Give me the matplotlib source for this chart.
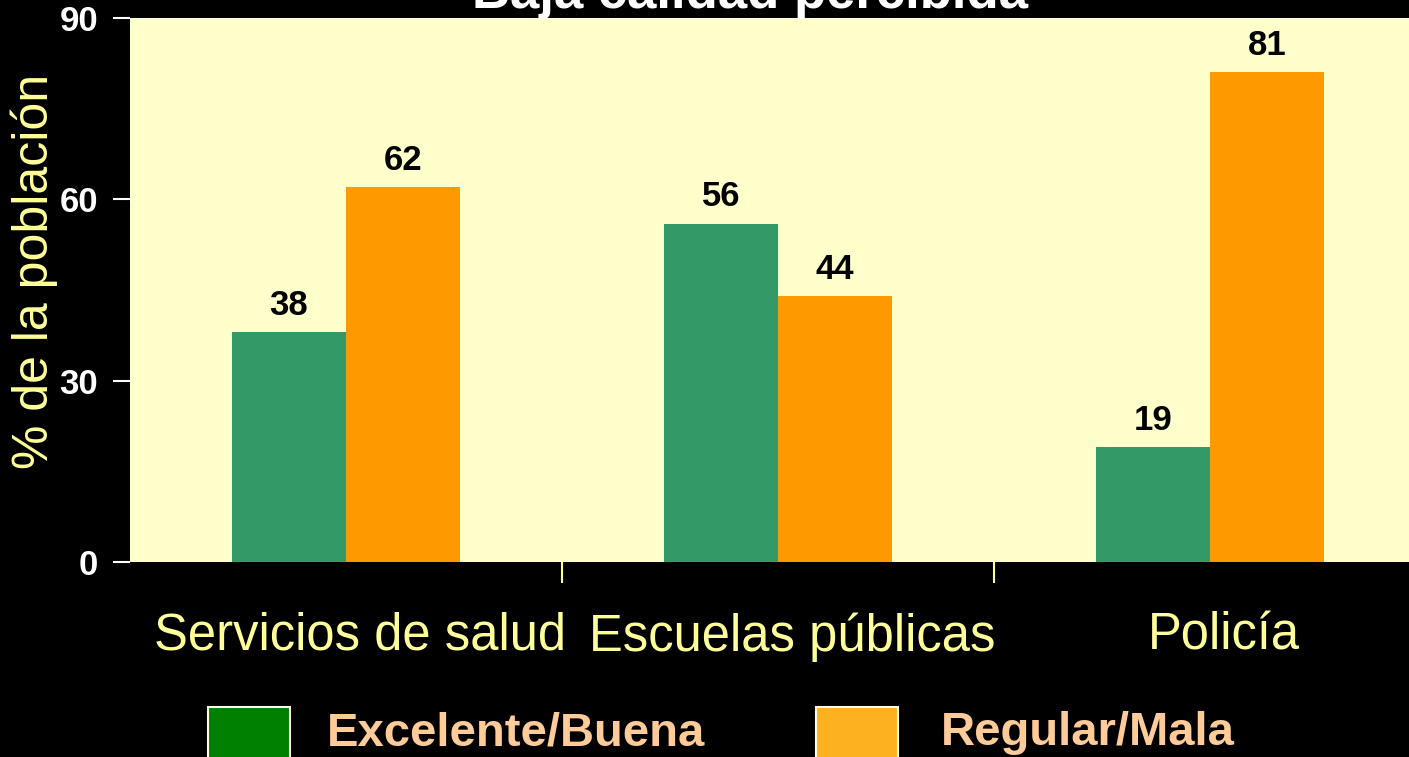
import matplotlib
matplotlib.use("Agg")
import matplotlib.pyplot as plt
import matplotlib.transforms as mtransforms
from matplotlib.patches import Rectangle
import numpy as np

# Chart data
categories = ["Servicios de salud", "Escuelas públicas", "Policía"]
buena = [38, 56, 19]
mala = [62, 44, 81]
series_names = ["Excelente/Buena", "Regular/Mala"]
y_ticks = [0, 30, 60, 90]


def main():
    plt.rcParams["font.family"] = ["Liberation Sans", "DejaVu Sans"]

    fig = plt.figure(figsize=(14.09, 7.57), dpi=100, facecolor="black")
    W, H = 1409, 757
    ax = fig.add_axes([130 / W, (H - 562) / H, 1279 / W, 544 / H])
    ax.set_facecolor("#FFFFCC")

    # Grouped bars
    x = np.arange(len(categories)) + 0.5
    w = 0.264
    bars1 = ax.bar(x - w / 2, buena, w, color="#339966")
    bars2 = ax.bar(x + w / 2, mala, w, color="#FF9900")
    for b in (bars1, bars2):
        ax.bar_label(b, padding=7.5, fontsize=25, fontweight="bold", color="black")

    ax.set_xlim(0, 2.96)
    ax.set_ylim(0, 90)
    for s in ax.spines.values():
        s.set_visible(False)

    # y axis
    ax.set_yticks(y_ticks)
    ax.set_yticklabels([str(t) for t in y_ticks], fontsize=25, fontweight="bold", color="white")
    ax.tick_params(axis="y", colors="white", length=12, width=1.5, pad=11)
    for lbl in ax.get_yticklabels():
        lbl.set_color("white")

    # x axis: ticks at group boundaries, labels at group centres
    ax.set_xticks([1, 2])
    ax.set_xticklabels([])
    ax.tick_params(axis="x", which="major", colors="#FFFF99", length=15, width=1.5)
    ax.set_xticks(x, minor=True)
    ax.set_xticklabels(categories, minor=True, fontsize=36.5, color="#FFFF99")
    ax.tick_params(axis="x", which="minor", length=0, pad=36)
    shift = mtransforms.ScaledTranslation(14 / 100, 0, fig.dpi_scale_trans)
    for lbl in ax.get_xticklabels(minor=True):
        lbl.set_transform(lbl.get_transform() + shift)

    # y label
    fig.text(34 / W, 1 - 271 / H, "% de la población", rotation=90,
             ha="center", va="center", fontsize=36, color="#FFFF99")

    # title (partly cut off at the top, as in the source)
    fig.text(750 / W, 1 - 8 / H, "Baja calidad percibida", ha="center", va="baseline",
             fontsize=38, fontweight="bold", color="white")

    # legend
    leg_colors = ["#008000", "#FDB120"]
    leg_box_x = [208, 816]
    leg_text_x = [327, 941]
    for name, c, bx, tx in zip(series_names, leg_colors, leg_box_x, leg_text_x):
        fig.patches.append(Rectangle((bx / W, 1 - 789 / H), 82 / W, 82 / H,
                                     transform=fig.transFigure, facecolor=c,
                                     edgecolor="#FFFFE0", linewidth=1.5))
        fig.text(tx / W, 1 - 745 / H, name, ha="left", va="baseline",
                 fontsize=34, fontweight="bold", color="#FFCC99")

    fig.savefig("out.png", dpi=100, facecolor="black")


if __name__ == "__main__":
    main()
